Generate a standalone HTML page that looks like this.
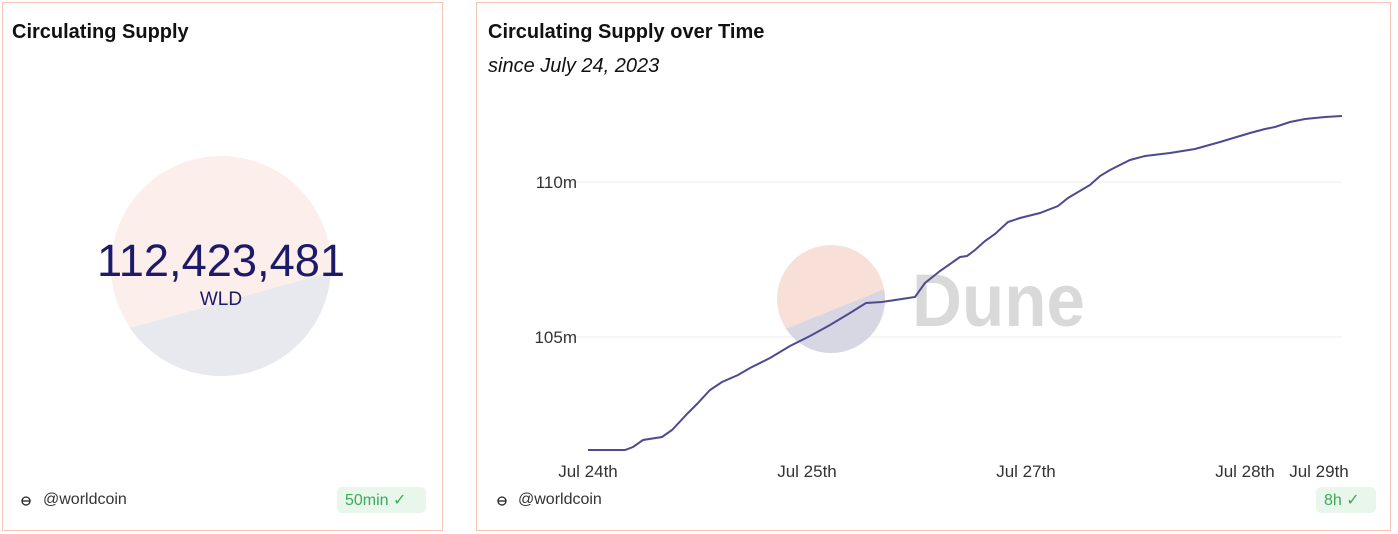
<!DOCTYPE html>
<html><head><meta charset="utf-8"><style>
body{margin:0;width:1398px;height:534px;background:#fff;font-family:"Liberation Sans",sans-serif;position:relative;overflow:hidden}
.p{position:absolute;border:1px solid #f5c5b8;box-sizing:border-box;background:#fff}
.t{position:absolute;font-weight:bold;font-size:20px;color:#111}
.a{position:absolute;font-size:16px;color:#333}
.b{position:absolute;background:#e9f6ec;color:#3daa5a;font-size:16px;border-radius:5px;padding:3px 8px}
</style></head><body>
<div class="p" style="left:2px;top:2px;width:441px;height:529px"></div>
<div class="p" style="left:476px;top:2px;width:915px;height:529px"></div>
<div class="t" style="left:12px;top:21px">Circulating Supply</div>
<div class="t" style="left:488px;top:21px">Circulating Supply over Time</div>
<div style="position:absolute;left:488px;top:55px;font-size:20px;font-style:italic;color:#111">since July 24, 2023</div>
<svg width="1398" height="534" style="position:absolute;left:0;top:0">
<clipPath id="c"><circle cx="221" cy="266" r="110"/></clipPath>
<g clip-path="url(#c)"><rect x="100" y="150" width="250" height="250" fill="#fbeeeb"/><polygon points="100,337 100,400 350,400 350,266 332,272 130,328" fill="#e8e8ef"/></g>
<text x="221" y="276" text-anchor="middle" font-size="45" fill="#1e1a6a" font-family="Liberation Sans" textLength="248" lengthAdjust="spacingAndGlyphs">112,423,481</text>
<text x="221" y="305" text-anchor="middle" font-size="19" fill="#1e1a6a" font-family="Liberation Sans">WLD</text>
<line x1="553" y1="182" x2="1342" y2="182" stroke="#eee"/>
<line x1="553" y1="337" x2="1342" y2="337" stroke="#eee"/>
<text x="577" y="188" text-anchor="end" font-size="17" fill="#333" font-family="Liberation Sans">110m</text>
<text x="577" y="343" text-anchor="end" font-size="17" fill="#333" font-family="Liberation Sans">105m</text>
<clipPath id="d"><circle cx="831" cy="299" r="54"/></clipPath>
<g clip-path="url(#d)"><rect x="770" y="240" width="130" height="130" fill="#f8e0d9"/><polygon points="770,330 770,370 900,370 900,285 885,289 788,328" fill="#d7d7e4"/></g>
<text x="912" y="326" font-size="74" font-weight="bold" fill="#d9d9d9" font-family="Liberation Sans" textLength="173" lengthAdjust="spacingAndGlyphs">Dune</text>
<polyline fill="none" stroke="#4d4b8f" stroke-width="2" points="588,450 625,450 633,447 643,440 662,437 672,430 688,413 697,404 710,390 722,382 738,375 750,368 770,358 790,346 810,336 830,325 850,313 866,303 882,302 915,297 925,283 940,271 960,257 967,256 975,250 985,241 995,234 1008,222 1020,218 1040,213 1058,206 1068,198 1090,185 1100,176 1110,170 1130,160 1145,156 1170,153 1195,149 1220,142 1250,133 1265,129 1275,127 1290,122 1305,119 1325,117 1342,116"/>
<g font-size="17" fill="#333" font-family="Liberation Sans" text-anchor="middle">
<text x="588" y="477">Jul 24th</text><text x="807" y="477">Jul 25th</text><text x="1026" y="477">Jul 27th</text><text x="1245" y="477">Jul 28th</text><text x="1319" y="477">Jul 29th</text></g>
<g fill="none" stroke="#222" stroke-width="1.3"><circle cx="26" cy="501" r="4"/><line x1="22" y1="501" x2="30" y2="501"/><circle cx="502" cy="501" r="4"/><line x1="498" y1="501" x2="506" y2="501"/></g>
</svg>
<div class="a" style="left:43px;top:491px">@worldcoin</div>
<div class="a" style="left:518px;top:491px">@worldcoin</div>
<div class="b" style="left:337px;top:487px;width:73px">50min ✓</div>
<div class="b" style="left:1316px;top:487px;width:44px">8h ✓</div>
</body></html>
